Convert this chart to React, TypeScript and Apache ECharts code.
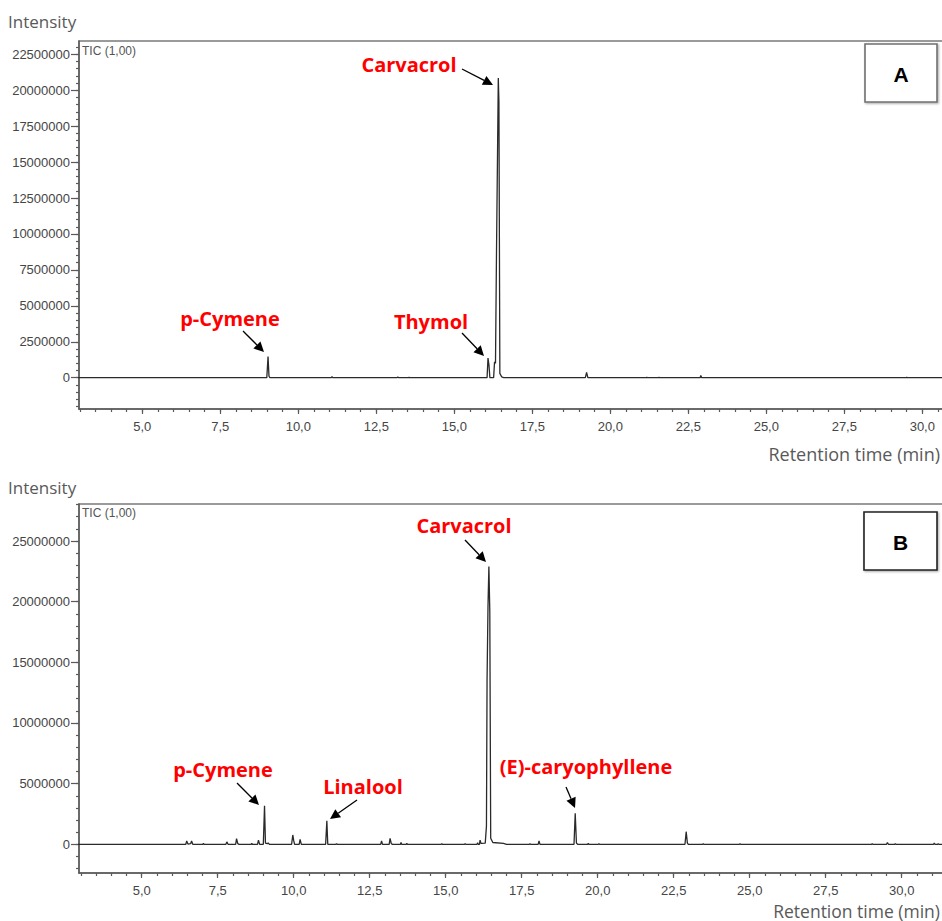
import React, { useEffect, useRef } from "react";
import * as echarts from "echarts";

// ---------- DATA ----------
// Chromatogram A: [retention time (min), intensity]
const chromA: number[][] = [
  [2.9, 0], [8.99, 0], [9.03, 1480000], [9.06, 100000], [9.09, 0],
  [11.05, 0], [11.08, 60000], [11.11, 0],
  [13.17, 0], [13.19, 50000], [13.21, 0],
  [13.53, 0], [13.55, 40000], [13.57, 0],
  [16.05, 0], [16.08, 1370000], [16.11, 900000], [16.14, 0],
  [16.26, 0], [16.29, 1100000], [16.32, 1000000], [16.35, 8200000], [16.38, 14500000],
  [16.41, 20850000], [16.43, 19200000], [16.46, 300000], [16.52, 50000], [16.58, 0],
  [19.20, 0], [19.24, 370000], [19.28, 0],
  [21.15, 0], [21.17, 40000], [21.19, 0],
  [21.54, 0], [21.56, 40000], [21.58, 0],
  [22.88, 0], [22.90, 150000], [22.93, 0],
  [29.48, 0], [29.50, 40000], [29.52, 0],
  [33, 0],
];

// Chromatogram B: [retention time (min), intensity]
const chromB: number[][] = [
  [2.9, 0],
  [6.45, 0], [6.48, 270000], [6.52, 20000], [6.61, 50000], [6.64, 270000], [6.68, 0],
  [7.01, 0], [7.03, 80000], [7.05, 0],
  [7.77, 0], [7.80, 200000], [7.84, 0],
  [8.09, 0], [8.12, 460000], [8.16, 50000], [8.20, 0],
  [8.60, 0], [8.62, 80000], [8.64, 0],
  [8.81, 0], [8.84, 350000], [8.88, 0],
  [9.00, 0], [9.04, 3180000], [9.07, 100000], [9.13, 50000], [9.16, 120000], [9.20, 0],
  [9.93, 0], [9.97, 770000], [10.00, 300000], [10.03, 0],
  [10.18, 0], [10.21, 410000], [10.25, 0],
  [11.05, 0], [11.09, 1940000], [11.12, 0],
  [11.39, 0], [11.41, 50000], [11.43, 0],
  [12.86, 0], [12.89, 270000], [12.92, 0],
  [13.14, 0], [13.17, 490000], [13.21, 50000], [13.25, 0],
  [13.51, 0], [13.53, 150000], [13.55, 0],
  [13.70, 0], [13.72, 80000], [13.74, 0],
  [14.85, 0], [14.87, 50000], [14.89, 0],
  [15.62, 0], [15.64, 50000], [15.66, 0],
  [16.03, 0], [16.05, 120000], [16.07, 0],
  [16.11, 0], [16.13, 350000], [16.16, 80000],
  [16.30, 100000], [16.34, 1500000], [16.36, 13500000], [16.39, 19500000],
  [16.42, 22900000], [16.45, 19200000], [16.48, 500000], [16.55, 150000], [16.90, 80000], [17.00, 0],
  [17.75, 0], [17.77, 60000], [17.79, 0],
  [18.04, 0], [18.07, 270000], [18.10, 0],
  [19.22, 0], [19.26, 2550000], [19.30, 100000], [19.34, 0],
  [19.67, 0], [19.69, 80000], [19.71, 0],
  [20.02, 0], [20.04, 60000], [20.06, 0],
  [22.87, 0], [22.91, 1040000], [22.95, 100000], [22.98, 0],
  [23.45, 0], [23.47, 60000], [23.49, 0],
  [24.66, 0], [24.68, 60000], [24.70, 0],
  [29.01, 0], [29.03, 50000], [29.05, 0],
  [29.50, 0], [29.53, 150000], [29.56, 0],
  [29.77, 0], [29.79, 50000], [29.81, 0],
  [31.05, 0], [31.07, 100000], [31.10, 0],
  [31.18, 0], [31.20, 60000], [31.22, 0],
  [33, 0],
];

// Tick labels
const xTickValues = [5, 7.5, 10, 12.5, 15, 17.5, 20, 22.5, 25, 27.5, 30];
const yTicksA = [0, 2500000, 5000000, 7500000, 10000000, 12500000, 15000000, 17500000, 20000000, 22500000];
const yTicksB = [0, 5000000, 10000000, 15000000, 20000000, 25000000];

// Annotations
const labelsA = [
  { text: "p-Cymene", x: 230, y: 318, from: [243, 331], to: [264, 352] },
  { text: "Thymol", x: 431, y: 321, from: [462, 333], to: [484, 356] },
  { text: "Carvacrol", x: 409, y: 64, from: [462, 69], to: [493, 85] },
];
const labelsB = [
  { text: "p-Cymene", x: 223, y: 769, from: [237, 783], to: [259, 805] },
  { text: "Linalool", x: 363, y: 786, from: [357, 800], to: [330, 819] },
  { text: "Carvacrol", x: 464, y: 525, from: [465, 540], to: [486, 562] },
  { text: "(E)-caryophyllene", x: 586, y: 766, from: [566, 787], to: [575, 808] },
];

// ---------- LAYOUT ----------
const CHART_W = 970; // wider than the page; the plot is cut at the right edge like the reference
const GRID_A = { left: 79, top: 41, height: 368, right: 0 };
const GRID_B = { left: 79, top: 504, height: 369, right: 0 };
const X_A = { min: 2.971, max: 2.971 + (CHART_W - 79) / 31.2 };
const X_B = { min: 2.937, max: 2.937 + (CHART_W - 79) / 30.4 };
const Y_A = { min: -2178000, max: 23425000 };
const Y_B = { min: -2365000, max: 28050000 };

const AXIS_COLOR = "#5a5a5a";
const LABEL_COLOR = "#454545";
const TICK_FONT = "'Liberation Sans', Arial, sans-serif";
const ANNOT_FONT = "'Open Sans', 'Noto Sans', sans-serif";

function range(start: number, end: number, step: number): number[] {
  const out: number[] = [];
  for (let v = start; v <= end + 1e-9; v += step) out.push(Math.round(v * 1000) / 1000);
  return out;
}

function arrow(from: number[], to: number[]) {
  const [x1, y1] = from;
  const [x2, y2] = to;
  const dx = x2 - x1;
  const dy = y2 - y1;
  const len = Math.sqrt(dx * dx + dy * dy);
  const ux = dx / len;
  const uy = dy / len;
  const hl = 10;
  const hw = 5;
  const bx = x2 - ux * hl;
  const by = y2 - uy * hl;
  return [
    {
      type: "line",
      shape: { x1, y1, x2: bx, y2: by },
      style: { stroke: "#000", lineWidth: 1.3 },
      silent: true,
    },
    {
      type: "polygon",
      shape: {
        points: [
          [x2, y2],
          [bx - uy * hw, by + ux * hw],
          [bx + uy * hw, by - ux * hw],
        ],
      },
      style: { fill: "#000" },
      silent: true,
    },
  ];
}

function annot(list: { text: string; x: number; y: number; from: number[]; to: number[] }[]) {
  const out: any[] = [];
  list.forEach((l) => {
    out.push({
      type: "text",
      x: l.x,
      y: l.y,
      style: {
        text: l.text,
        fill: "#ff0000",
        font: `bold 20px ${ANNOT_FONT}`,
        textAlign: "center",
        textVerticalAlign: "middle",
      },
      silent: true,
    });
    out.push(...arrow(l.from, l.to));
  });
  return out;
}

function xAxes(gridIndex: number, ext: { min: number; max: number }) {
  return [
    {
      type: "value",
      gridIndex,
      position: "bottom",
      min: ext.min,
      max: ext.max,
      axisLine: { show: true, onZero: false, lineStyle: { color: AXIS_COLOR, width: 1.5 } },
      axisTick: { show: true, inside: false, length: 5, customValues: xTickValues, lineStyle: { color: AXIS_COLOR, width: 1.2 } },
      axisLabel: {
        show: true,
        customValues: xTickValues,
        margin: 11,
        color: LABEL_COLOR,
        fontFamily: TICK_FONT,
        fontSize: 13,
        formatter: (v: number) => v.toFixed(1).replace(".", ","),
      },
      splitLine: { show: false },
    },
    {
      type: "value",
      gridIndex,
      position: "bottom",
      min: ext.min,
      max: ext.max,
      axisLine: { show: false, onZero: false },
      axisTick: { show: true, inside: false, length: 3, customValues: range(3, 32, 0.5), lineStyle: { color: AXIS_COLOR, width: 1.2 } },
      axisLabel: { show: false },
      splitLine: { show: false },
    },
  ];
}

function yAxes(gridIndex: number, ext: { min: number; max: number }, ticks: number[], minor: number[]) {
  return [
    {
      type: "value",
      gridIndex,
      position: "left",
      min: ext.min,
      max: ext.max,
      axisLine: { show: true, onZero: false, lineStyle: { color: AXIS_COLOR, width: 1.5 } },
      axisTick: { show: true, inside: false, length: 8, customValues: ticks, lineStyle: { color: AXIS_COLOR, width: 1.2 } },
      axisLabel: {
        show: true,
        customValues: ticks,
        margin: 9,
        color: LABEL_COLOR,
        fontFamily: TICK_FONT,
        fontSize: 13,
        formatter: (v: number) => String(Math.round(v)),
      },
      splitLine: { show: false },
    },
    {
      type: "value",
      gridIndex,
      position: "left",
      min: ext.min,
      max: ext.max,
      axisLine: { show: false, onZero: false },
      axisTick: { show: true, inside: false, length: 3, customValues: minor, lineStyle: { color: AXIS_COLOR, width: 1.2 } },
      axisLabel: { show: false },
      splitLine: { show: false },
    },
  ];
}

function box(x: number, y: number, w: number, h: number, letter: string, stroke: string) {
  return [
    {
      type: "rect",
      shape: { x, y, width: w, height: h },
      style: { fill: "#fff", stroke, lineWidth: 1.6, shadowBlur: 2, shadowColor: "rgba(0,0,0,0.35)", shadowOffsetX: 1, shadowOffsetY: 1 },
      silent: true,
      z: 10,
    },
    {
      type: "text",
      x: x + w / 2,
      y: y + h / 2 + 1,
      style: { text: letter, fill: "#000", font: `bold 21px ${TICK_FONT}`, textAlign: "center", textVerticalAlign: "middle" },
      silent: true,
      z: 11,
    },
  ];
}

export default function App() {
  const ref = useRef<HTMLDivElement>(null);

  useEffect(() => {
    if (!ref.current) return;
    const chart = echarts.init(ref.current, undefined, { renderer: "svg" });

    const minorA = range(-2000000, 23000000, 500000);
    const minorB = range(-2000000, 28000000, 1000000);

    const sideText = (text: string, x: number, y: number, align: string, size: number) => ({
      type: "text",
      x,
      y,
      style: { text, fill: "#595959", font: `${size}px ${ANNOT_FONT}`, textAlign: align, textVerticalAlign: "middle" },
      silent: true,
    });
    const ticText = (y: number) => ({
      type: "text",
      x: 82,
      y,
      style: { text: "TIC (1,00)", fill: "#555", font: `12px ${TICK_FONT}`, textAlign: "left", textVerticalAlign: "middle" },
      silent: true,
    });

    chart.setOption({
      animation: false,
      backgroundColor: "#fff",
      grid: [
        { ...GRID_A, show: true, borderColor: "#7a7a7a", borderWidth: 1.5, backgroundColor: "transparent" },
        { ...GRID_B, show: true, borderColor: "#7a7a7a", borderWidth: 1.5, backgroundColor: "transparent" },
      ],
      xAxis: [...xAxes(0, X_A), ...xAxes(1, X_B)],
      yAxis: [...yAxes(0, Y_A, yTicksA, minorA), ...yAxes(1, Y_B, yTicksB, minorB)],
      series: [
        {
          type: "line",
          xAxisIndex: 0,
          yAxisIndex: 0,
          data: chromA,
          showSymbol: false,
          symbol: "none",
          lineStyle: { color: "#2a2a2a", width: 1.3 },
          clip: true,
        },
        {
          type: "line",
          xAxisIndex: 2,
          yAxisIndex: 2,
          data: chromB,
          showSymbol: false,
          symbol: "none",
          lineStyle: { color: "#2a2a2a", width: 1.3 },
          clip: true,
        },
      ],
      graphic: [
        sideText("Intensity", 8, 21, "left", 17),
        sideText("Intensity", 8, 487, "left", 17),
        sideText("Retention time (min)", 940, 454, "right", 18),
        sideText("Retention time (min)", 940, 910.5, "right", 17.5),
        ticText(51),
        ticText(513),
        ...box(865, 44, 72, 58, "A", "#707070"),
        ...box(864, 512, 73, 58, "B", "#222"),
        ...annot(labelsA),
        ...annot(labelsB),
      ],
    });

    return () => chart.dispose();
  }, []);

  return (
    <div style={{ position: "absolute", left: 0, top: 0, width: 942, height: 921, overflow: "hidden", background: "#fff" }}>
      <div ref={ref} style={{ width: CHART_W, height: 921 }} />
    </div>
  );
}
